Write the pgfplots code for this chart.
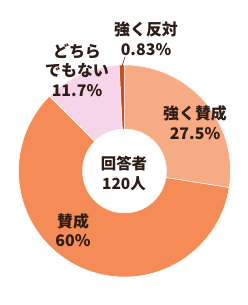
\documentclass[border=0pt]{standalone}
\usepackage{pgfplots}
\pgfplotsset{compat=1.18}
\usepackage{pgfplotstable}
\usepackage{fontspec}
\setmainfont{Noto Sans CJK JP}[BoldFont={Noto Sans CJK JP Black}]
\definecolor{cA}{HTML}{F7AB84}
\definecolor{cB}{HTML}{F58C57}
\definecolor{cC}{HTML}{F6D4EA}
\definecolor{cD}{HTML}{C4501F}
\definecolor{txt}{HTML}{2E1C16}
\pgfplotstableread{
pct col
27.5 cA
60 cB
11.7 cC
0.83 cD
}\shares
\begin{document}
\begin{tikzpicture}
\begin{axis}[scale only axis, width=248bp, height=305bp,
  xmin=0, xmax=248, ymin=0, ymax=305, hide axis, clip=false]
\path (rel axis cs:0,0) rectangle (rel axis cs:1,1);
\pgfplotstablegetrowsof{\shares}
\pgfmathtruncatemacro{\nrows}{\pgfplotsretval-1}
\def\cum{0}
\pgfplotsforeachungrouped \i in {0,...,\nrows}{%
  \pgfplotstablegetelem{\i}{pct}\of{\shares}\let\v\pgfplotsretval
  \pgfplotstablegetelem{\i}{col}\of{\shares}\let\c\pgfplotsretval
  \pgfmathsetmacro{\aS}{90-3.6*\cum}%
  \pgfmathsetmacro{\aE}{90-3.6*(\cum+\v)}%
  \edef\temp{\noexpand\fill[\c, draw=white, line width=0.5pt]
    (axis cs:{124.5+106*cos(\aS)},{134+106*sin(\aS)})
    arc[start angle=\aS, end angle=\aE, radius=106bp]
    -- (axis cs:{124.5+42*cos(\aE)},{134+42*sin(\aE)})
    arc[start angle=\aE, end angle=\aS, radius=42bp] -- cycle;}%
  \temp
  \pgfmathsetmacro{\cum}{\cum+\v}%
}
\draw[txt, line width=0.6pt] (axis cs:125,248) -- (axis cs:122,239);
\begin{scope}[every node/.style={text=txt, align=center, font=\bfseries\fontsize{16}{19.5}\selectfont}]
\node at (axis cs:146,266) {強く反対\\0.83\%};
\node at (axis cs:77,235) {どちら\\でもない\\11.7\%};
\node at (axis cs:195,182.5) {強く賛成\\27.5\%};
\node at (axis cs:73,75) {賛成\\60\%};
\node[font=\bfseries\fontsize{15.5}{21}\selectfont] at (axis cs:124,131.5) {回答者\\120人};
\end{scope}
\end{axis}
\end{tikzpicture}
\end{document}
